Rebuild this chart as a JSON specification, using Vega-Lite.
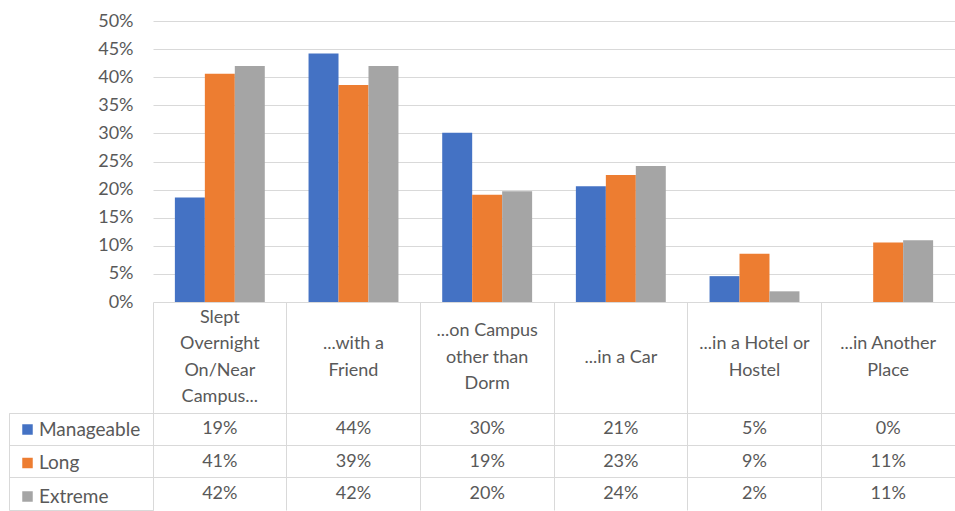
{
  "$schema": "https://vega.github.io/schema/vega-lite/v6.json",
  "padding": {"left": 8, "top": 12, "right": 0, "bottom": 0},
  "background": "white",
  "config": {"view": {"stroke": null}, "font": "Lato"},
  "datasets": {
    "d": [
      {"cat": "Slept\nOvernight\nOn/Near\nCampus...", "series": "Manageable", "value": 0.186},
      {"cat": "Slept\nOvernight\nOn/Near\nCampus...", "series": "Long", "value": 0.406},
      {"cat": "Slept\nOvernight\nOn/Near\nCampus...", "series": "Extreme", "value": 0.42},
      {"cat": "...with a\nFriend", "series": "Manageable", "value": 0.442},
      {"cat": "...with a\nFriend", "series": "Long", "value": 0.386},
      {"cat": "...with a\nFriend", "series": "Extreme", "value": 0.42},
      {"cat": "...on Campus\nother than\nDorm", "series": "Manageable", "value": 0.301},
      {"cat": "...on Campus\nother than\nDorm", "series": "Long", "value": 0.191},
      {"cat": "...on Campus\nother than\nDorm", "series": "Extreme", "value": 0.197},
      {"cat": "...in a Car", "series": "Manageable", "value": 0.206},
      {"cat": "...in a Car", "series": "Long", "value": 0.226},
      {"cat": "...in a Car", "series": "Extreme", "value": 0.242},
      {"cat": "...in a Hotel or\nHostel", "series": "Manageable", "value": 0.046},
      {"cat": "...in a Hotel or\nHostel", "series": "Long", "value": 0.086},
      {"cat": "...in a Hotel or\nHostel", "series": "Extreme", "value": 0.019},
      {"cat": "...in Another\nPlace", "series": "Manageable", "value": 0},
      {"cat": "...in Another\nPlace", "series": "Long", "value": 0.106},
      {"cat": "...in Another\nPlace", "series": "Extreme", "value": 0.11}
    ]
  },
  "columns": 2,
  "spacing": 0,
  "bounds": "flush",
  "resolve": {"scale": {"color": "independent"}, "legend": {"color": "independent"}},
  "concat": [
    {"width": 144, "height": 281, "data": {"values": []}, "mark": "text", "encoding": {}},
    {
      "width": 802, "height": 281,
      "data": {"name": "d"},
      "mark": {"type": "bar"},
      "encoding": {
        "x": {"field": "cat", "type": "nominal", "sort": null, "scale": {"paddingInner": 0, "paddingOuter": 0}, "axis": null},
        "xOffset": {"field": "series", "type": "nominal", "sort": ["Manageable", "Long", "Extreme"], "scale": {"paddingInner": 0, "paddingOuter": 0.73}},
        "y": {"field": "value", "type": "quantitative", "scale": {"domain": [0, 0.5], "nice": false},
          "axis": {"values": [0, 0.05, 0.1, 0.15, 0.2, 0.25, 0.3, 0.35, 0.4, 0.45, 0.5], "format": ".0%", "title": null, "domain": false, "ticks": false, "labelFontSize": 18, "labelColor": "#595959", "labelPadding": 20, "gridColor": "#d9d9d9", "gridWidth": 1}},
        "color": {"field": "series", "type": "nominal", "scale": {"domain": ["Manageable", "Long", "Extreme"], "range": ["#4472C4", "#ED7D31", "#A5A5A5"]}, "legend": null}
      }
    },
    {"width": 144, "height": 111, "data": {"values": []}, "mark": "text", "encoding": {}},
    {
      "width": 802, "height": 111,
      "data": {"name": "d"},
      "transform": [{"filter": "datum.series === 'Manageable'"}],
      "mark": {"type": "text", "fontSize": 18, "color": "#595959", "lineBreak": "\n", "lineHeight": 26.5, "baseline": "middle",
        "dy": {"expr": "-(length(split(datum.cat, '\\n')) - 1) * 13.25"}},
      "encoding": {
        "x": {"field": "cat", "type": "nominal", "sort": null, "scale": {"type": "band", "paddingInner": 0, "paddingOuter": 0},
          "axis": {"grid": true, "bandPosition": 0, "labels": false, "ticks": false, "domain": false, "title": null, "gridColor": "#d9d9d9"}},
        "text": {"field": "cat", "type": "nominal"}
      }
    },
    {
      "width": 144, "height": 97,
      "view": {"stroke": "#d9d9d9"},
      "data": {"name": "d"},
      "mark": {"type": "square", "opacity": 0},
      "encoding": {
        "y": {"field": "series", "type": "nominal", "sort": ["Manageable", "Long", "Extreme"], "scale": {"type": "band", "paddingInner": 0, "paddingOuter": 0},
          "axis": {"grid": true, "bandPosition": 0, "labels": false, "ticks": false, "domain": false, "title": null, "gridColor": "#d9d9d9"}},
        "color": {"field": "series", "type": "nominal", "sort": ["Manageable", "Long", "Extreme"],
          "scale": {"domain": ["Manageable", "Long", "Extreme"], "range": ["#4472C4", "#ED7D31", "#A5A5A5"]},
          "legend": {"title": null, "orient": "top-left", "offset": 7, "padding": 0, "symbolType": "square", "symbolSize": 110, "symbolOpacity": 1, "symbolStrokeWidth": 0, "labelFontSize": 19, "labelColor": "#595959", "labelFont": "Lato", "rowPadding": 13.5, "symbolOffset": 2, "labelOffset": 2}}
      }
    },
    {
      "width": 802, "height": 97,
      "data": {"name": "d"},
      "mark": {"type": "text", "fontSize": 18, "color": "#595959"},
      "encoding": {
        "x": {"field": "cat", "type": "nominal", "sort": null, "scale": {"type": "band", "paddingInner": 0, "paddingOuter": 0},
          "axis": {"grid": true, "bandPosition": 0, "labels": false, "ticks": false, "domain": false, "title": null, "gridColor": "#d9d9d9"}},
        "y": {"field": "series", "type": "nominal", "sort": ["Manageable", "Long", "Extreme"], "scale": {"type": "band", "paddingInner": 0, "paddingOuter": 0},
          "axis": {"grid": true, "bandPosition": 0, "labels": false, "ticks": false, "domain": false, "title": null, "gridColor": "#d9d9d9"}},
        "text": {"field": "value", "type": "quantitative", "format": ".0%"}
      }
    }
  ]
}
